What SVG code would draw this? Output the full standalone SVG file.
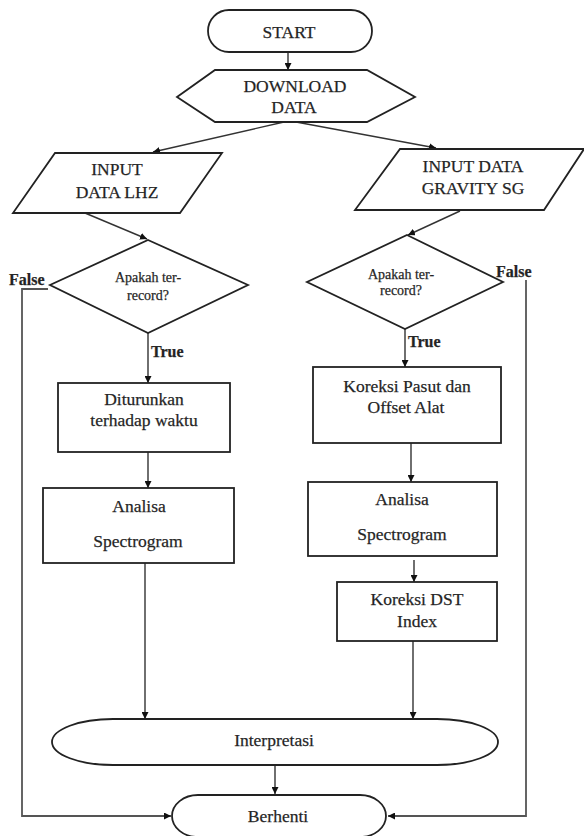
<svg xmlns="http://www.w3.org/2000/svg" width="584" height="836" viewBox="0 0 584 836">
<defs>
<style>
.s{fill:#fff;stroke:#222;stroke-width:1.8}
.c{fill:none;stroke:#333;stroke-width:1.4}
.g{fill:none;stroke:#555;stroke-width:1.8}
text{font-family:'Liberation Serif','Times New Roman',serif;fill:#222;stroke:#333;stroke-width:0.25}
.t{font-size:17.5px;text-anchor:middle}
.sm{font-size:14px;text-anchor:middle}
.b{font-size:16px;font-weight:bold}
</style>
<marker id="ah" viewBox="0 0 10 10" refX="10" refY="5" markerWidth="7" markerHeight="7" markerUnits="userSpaceOnUse" orient="auto">
<path d="M0,0 L10,5 L0,10 Z" fill="#111"/>
</marker>
</defs>
<rect width="584" height="836" fill="#fff"/>

<g id="connectors">
<line class="c" x1="288" y1="52" x2="288" y2="70" marker-end="url(#ah)"/>
<line class="c" x1="284" y1="122" x2="153" y2="152" marker-end="url(#ah)"/>
<line class="c" x1="296" y1="122" x2="436" y2="148" marker-end="url(#ah)"/>
<line class="c" x1="85" y1="213" x2="147" y2="239" marker-end="url(#ah)"/>
<line class="c" x1="460" y1="211" x2="408" y2="235" marker-end="url(#ah)"/>
<line class="c" x1="148" y1="333" x2="148" y2="383" marker-end="url(#ah)"/>
<line class="c" x1="148" y1="452" x2="148" y2="488" marker-end="url(#ah)"/>
<line class="c" x1="145" y1="563" x2="145" y2="719" marker-end="url(#ah)"/>
<line class="c" x1="405" y1="329" x2="405" y2="367" marker-end="url(#ah)"/>
<line class="c" x1="411" y1="443" x2="411" y2="482" marker-end="url(#ah)"/>
<line class="c" x1="414" y1="560" x2="414" y2="582" marker-end="url(#ah)"/>
<line class="c" x1="413" y1="641" x2="413" y2="719" marker-end="url(#ah)"/>
<line class="c" x1="275" y1="765" x2="275" y2="794" marker-end="url(#ah)"/>
<path class="g" d="M48,289 H22 V816 H171" marker-end="url(#ah)"/>
<path class="g" d="M526,280 V816 H388" marker-end="url(#ah)"/>
</g>

<g id="start">
<rect class="s" x="208" y="10" width="164" height="42" rx="21"/>
<text class="t" x="289" y="38">START</text>
</g>

<g id="download">
<polygon class="s" points="215,70 367,70 415,97 367,122 215,122 177,97"/>
<text class="t" x="295" y="92">DOWNLOAD</text>
<text class="t" x="294" y="113">DATA</text>
</g>

<g id="input-lhz">
<polygon class="s" points="55,153 222,153 180,213 13,213"/>
<text class="t" x="117" y="175">INPUT</text>
<text class="t" x="117" y="198">DATA LHZ</text>
</g>

<g id="input-sg">
<polygon class="s" points="400,149 584,149 544,210 355,210"/>
<text class="t" x="473" y="172">INPUT DATA</text>
<text class="t" x="473" y="194">GRAVITY SG</text>
</g>

<g id="decision-lhz">
<polygon class="s" points="148,240 248,285 148,333 50,285"/>
<text class="sm" x="148" y="282">Apakah ter-</text>
<text class="sm" x="148" y="300">record?</text>
<text class="b" x="9" y="285">False</text>
<text class="b" x="151" y="357">True</text>
</g>

<g id="decision-sg">
<polygon class="s" points="407,235 503,282 405,329 307,282"/>
<text class="sm" x="401" y="279">Apakah ter-</text>
<text class="sm" x="401" y="295">record?</text>
<text class="b" x="496" y="277">False</text>
<text class="b" x="408" y="347">True</text>
</g>

<g id="diturunkan">
<rect class="s" x="58" y="383" width="172" height="69"/>
<text class="t" x="144" y="405">Diturunkan</text>
<text class="t" x="144" y="426">terhadap waktu</text>
</g>

<g id="analisa-lhz">
<rect class="s" x="43" y="488" width="191" height="75"/>
<text class="t" x="139" y="512">Analisa</text>
<text class="t" x="138" y="547">Spectrogram</text>
</g>

<g id="koreksi-pasut">
<rect class="s" x="313" y="367" width="188" height="76"/>
<text class="t" x="407" y="392">Koreksi Pasut dan</text>
<text class="t" x="406" y="413">Offset Alat</text>
</g>

<g id="analisa-sg">
<rect class="s" x="308" y="482" width="189" height="74"/>
<text class="t" x="402" y="505">Analisa</text>
<text class="t" x="402" y="540">Spectrogram</text>
</g>

<g id="koreksi-dst">
<rect class="s" x="337" y="582" width="160" height="59"/>
<text class="t" x="417" y="605">Koreksi DST</text>
<text class="t" x="417" y="627">Index</text>
</g>

<g id="interpretasi">
<path class="s" d="M113,719 H437 A61,23 0 0 1 437,765 H113 A61,23 0 0 1 113,719 Z"/>
<text class="t" x="274" y="746">Interpretasi</text>
</g>

<g id="berhenti">
<path class="s" d="M198,795 H360 A26,21 0 0 1 360,837 H198 A26,21 0 0 1 198,795 Z"/>
<text class="t" x="278" y="822">Berhenti</text>
</g>
</svg>
